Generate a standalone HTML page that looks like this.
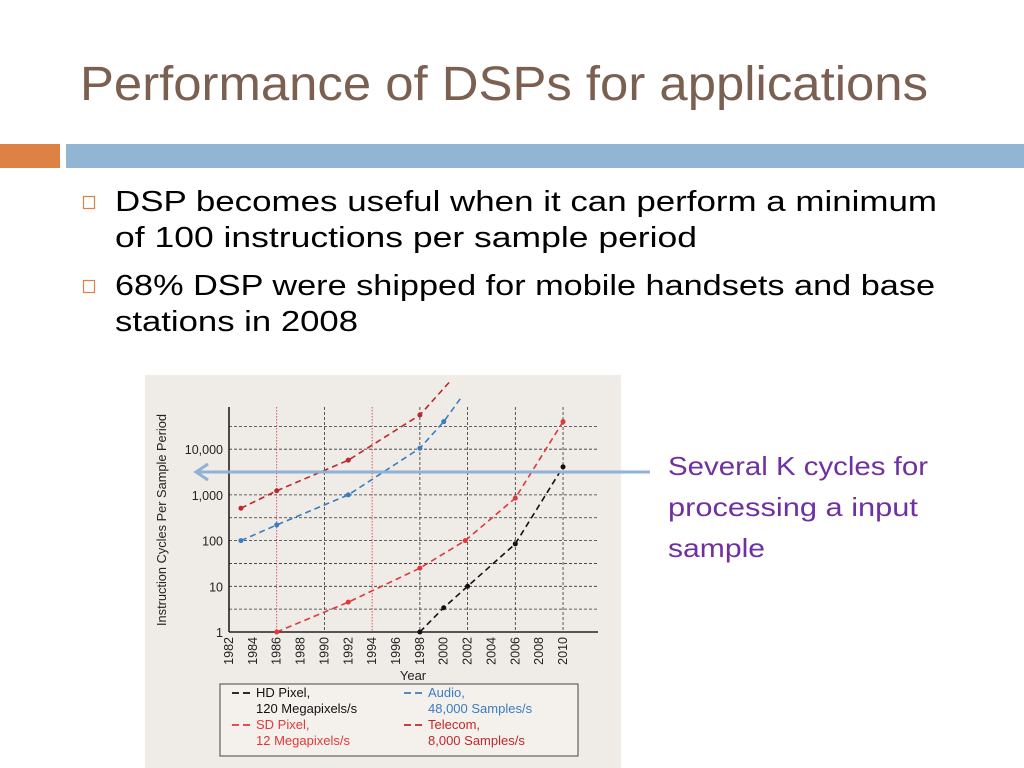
<!DOCTYPE html>
<html><head><meta charset="utf-8"><style>
html,body{margin:0;padding:0;background:#fff;}
svg{display:block;font-family:"Liberation Sans",sans-serif;}
</style></head><body>
<svg id="page" width="1024" height="768" viewBox="0 0 1024 768">
<text x="80" y="100" font-size="48" fill="#7b5f51" textLength="848" lengthAdjust="spacingAndGlyphs">Performance of DSPs for applications</text>
<rect x="0" y="144" width="60" height="24" fill="#dd8145"/>
<rect x="66" y="144" width="958" height="24" fill="#93b5d4"/>
<rect x="83.5" y="196.5" width="11" height="12" fill="none" stroke="#dd8145" stroke-width="1.2"/>
<text x="115" y="211" font-size="29" fill="#000" textLength="822" lengthAdjust="spacingAndGlyphs">DSP becomes useful when it can perform a minimum</text>
<text x="115" y="247" font-size="29" fill="#000" textLength="582" lengthAdjust="spacingAndGlyphs">of 100 instructions per sample period</text>
<rect x="83.5" y="280.5" width="11" height="12" fill="none" stroke="#dd8145" stroke-width="1.2"/>
<text x="115" y="295" font-size="29" fill="#000" textLength="820" lengthAdjust="spacingAndGlyphs">68% DSP were shipped for mobile handsets and base</text>
<text x="115" y="331" font-size="29" fill="#000" textLength="243" lengthAdjust="spacingAndGlyphs">stations in 2008</text>

<rect x="145" y="375" width="476" height="393" fill="#efebe6"/>
<g id="chart"></g>

<text x="668" y="475" font-size="26" fill="#7030a0" textLength="260" lengthAdjust="spacingAndGlyphs">Several K cycles for</text>
<text x="668" y="516" font-size="26" fill="#7030a0" textLength="250" lengthAdjust="spacingAndGlyphs">processing a input</text>
<text x="668" y="557" font-size="26" fill="#7030a0" textLength="97" lengthAdjust="spacingAndGlyphs">sample</text>
<g id="arrow">
<line x1="196" y1="472" x2="650" y2="472" stroke="#8fb2d6" stroke-width="3"/>
<polyline points="208,464 196,472 208,480" fill="none" stroke="#8fb2d6" stroke-width="3"/>
</g>
</svg>
<script>
const yearTicks = [1982,1984,1986,1988,1990,1992,1994,1996,1998,2000,2002,2004,2006,2008,2010];
const yTickValues = [1,10,100,1000,10000];
const yTickLabels = ["1","10","100","1,000","10,000"];
const blackGridYears = [1990,1998,2002,2006,2010];
const redGridYears = [1986,1994];
const telecomYears = [1983,1986,1992,1998,2000.6];
const telecomValues = [510,1230,5750,56000,320000];
const audioYears = [1983,1986,1992,1998,2000,2001.5];
const audioValues = [100,220,1000,10500,40000,140000];
const sdYears = [1986,1992,1998,2001.8,2006,2010];
const sdValues = [1,4.5,25,100,850,40000];
const hdYears = [1998,2000,2002,2006,2010];
const hdValues = [1,3.4,10,85,4100];

const NS="http://www.w3.org/2000/svg";
const g=document.getElementById('chart');
const X0=229, PX=11.93, Y0=632, DEC=45.7;
const xs=y=>X0+(y-1982)*PX;
const ys=v=>Y0-Math.log10(v)*DEC;
function mk(t,a,p){const e=document.createElementNS(NS,t);for(const k in a)e.setAttribute(k,a[k]);(p||g).appendChild(e);return e;}

// horizontal grid (decades and half decades)
for(let d=0.5; d<=4.5; d+=0.5){
  const l=mk('line',{x1:X0,x2:598,y1:ys(Math.pow(10,d)),y2:ys(Math.pow(10,d)),stroke:'#333','stroke-width':0.8,'stroke-dasharray':'3,2'});
  
  
}
blackGridYears.forEach(yr=>{
  const l=mk('line',{x1:xs(yr),x2:xs(yr),y1:407,y2:Y0,stroke:'#333','stroke-width':0.8,'stroke-dasharray':'3,2'});
  
  
});
redGridYears.forEach(yr=>{
  const l=mk('line',{x1:xs(yr),x2:xs(yr),y1:407,y2:Y0,stroke:'#d9303a','stroke-width':0.8,'stroke-dasharray':'1.5,1.5'});
  
  
});
// axes
const ya=mk('line',{x1:X0,x2:X0,y1:407,y2:Y0,stroke:'#222','stroke-width':1.6});


const xa=mk('line',{x1:X0,x2:598,y1:Y0,y2:Y0,stroke:'#222','stroke-width':1.6});



yTickValues.forEach((v,i)=>{
  const t=mk('text',{x:223,y:ys(v)+5,'font-size':12.5,'text-anchor':'end',fill:'#222'});
  t.textContent=yTickLabels[i];
  
  
});
yearTicks.forEach(yr=>{
  const x=xs(yr)+4;
  const t=mk('text',{x:x,y:637,'font-size':12.5,'text-anchor':'end',fill:'#222',transform:`rotate(-90 ${x} 637)`});
  t.textContent=yr;
  
  
});
const xt=mk('text',{x:413,y:680,'font-size':13,'text-anchor':'middle',fill:'#222'});
xt.textContent='Year';


const yt=mk('text',{x:166,y:520,'font-size':12.5,'text-anchor':'middle',fill:'#222',transform:'rotate(-90 166 520)',textLength:212,lengthAdjust:'spacingAndGlyphs'});
yt.textContent='Instruction Cycles Per Sample Period';



function series(years,vals,color,name,lastNoDot){
  const pts=years.map((y,i)=>xs(y)+','+ys(vals[i])).join(' ');
  const p=mk('polyline',{points:pts,fill:'none',stroke:color,'stroke-width':1.6,'stroke-dasharray':'6,4'});
  
  
  years.forEach((y,i)=>{
    if(lastNoDot && i===years.length-1) return;
    const c=mk('circle',{cx:xs(y),cy:ys(vals[i]),r:2.5,fill:color});
    
    
  });
}
// clip region: chart panel
series(telecomYears,telecomValues,'#c0272d','telecom',true);
series(audioYears,audioValues,'#3a7cc0','audio',true);
series(sdYears,sdValues,'#e0383a','sd-pixel',false);
series(hdYears,hdValues,'#111','hd-pixel',false);
// mask overflow above panel
const m=mk('rect',{x:145,y:340,width:476,height:35,fill:'#fff'});



// legend
const lg=mk('g',{});


mk('rect',{x:220,y:684,width:358,height:72,fill:'#f4f1ec',stroke:'#444','stroke-width':1},lg);
const legendItems=[
 [232,697,'#111','HD Pixel,','120 Megapixels/s'],
 [404,697,'#3a7cc0','Audio,','48,000 Samples/s'],
 [232,729,'#e0383a','SD Pixel,','12 Megapixels/s'],
 [404,729,'#c0272d','Telecom,','8,000 Samples/s']
];
legendItems.forEach(it=>{
  const e=mk('g',{},lg);
  
  
  mk('line',{x1:it[0],x2:it[0]+22,y1:it[1]-4,y2:it[1]-4,stroke:it[2],'stroke-width':1.8,'stroke-dasharray':'7,4'},e);
  const a=mk('text',{x:it[0]+24,y:it[1],'font-size':13,fill:it[2]},e);a.textContent=it[3];
  const b=mk('text',{x:it[0]+24,y:it[1]+16,'font-size':13,fill:it[2]},e);b.textContent=it[4];
});
</script>
</body></html>
